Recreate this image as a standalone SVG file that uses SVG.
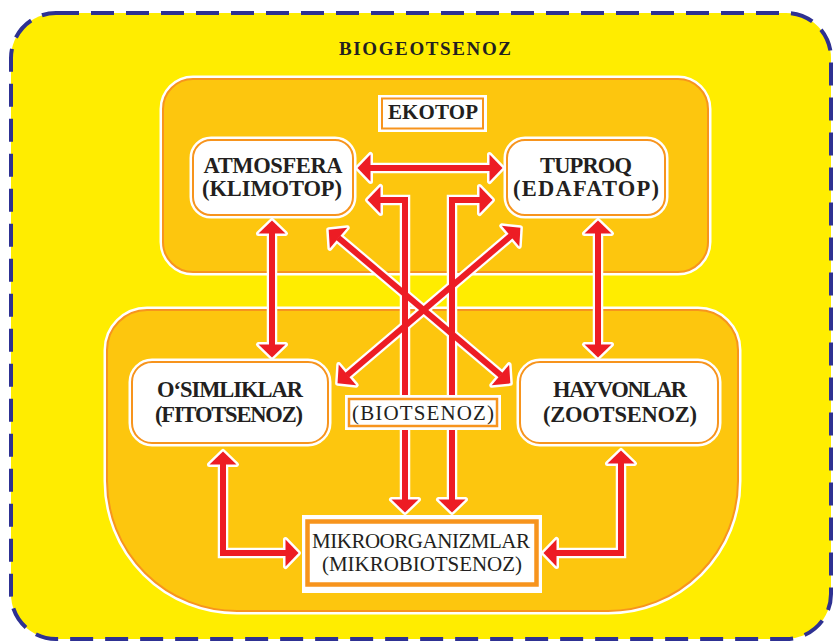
<svg xmlns="http://www.w3.org/2000/svg" width="835" height="643" viewBox="0 0 835 643">
<style>
.t{font-family:"Liberation Serif","Times New Roman",serif;font-weight:bold;fill:#231f20;text-anchor:middle}
.r{font-family:"Liberation Serif","Times New Roman",serif;font-weight:normal;fill:#231f20;text-anchor:middle}
.halo{fill:#fff;stroke:#fff;stroke-width:7}
.box{fill:#fff;stroke:#f7941d;stroke-width:2}
.panel{fill:#fdc60e;stroke:#f7941d;stroke-width:2}
.panelhalo{fill:none;stroke:#fff;stroke-width:7}
.w{fill:none;stroke:#fff;stroke-width:10.5;marker-start:url(#mw);marker-end:url(#mw)}
.rd{fill:none;stroke:#ed1c24;stroke-width:6;marker-start:url(#mr);marker-end:url(#mr)}
</style>
<defs>
<marker id="mr" markerUnits="userSpaceOnUse" orient="auto-start-reverse" refX="0" refY="0" markerWidth="40" markerHeight="40" viewBox="-20 -20 40 40" overflow="visible">
<path d="M-0.5,-13.5 L12.5,0 L-0.5,13.5 Z" fill="#ed1c24"/>
</marker>
<marker id="mw" markerUnits="userSpaceOnUse" orient="auto-start-reverse" refX="0" refY="0" markerWidth="40" markerHeight="40" viewBox="-20 -20 40 40" overflow="visible">
<path d="M-0.5,-13.5 L12.5,0 L-0.5,13.5 Z" fill="#fff" stroke="#fff" stroke-width="5" stroke-linejoin="round"/>
</marker>
</defs>

<g id="background">
<rect x="11" y="13" width="820" height="626" rx="45" ry="45" fill="#ffed00" stroke="#2e3192" stroke-width="4" stroke-dasharray="23 12"/>
</g>

<g id="biogeotsenoz-title">
<text class="t" x="425" y="55" font-size="19" textLength="172" lengthAdjust="spacing">BIOGEOTSENOZ</text>
</g>

<g id="ekotop-panel">
<rect class="panelhalo" x="163" y="79" width="545" height="193" rx="30"/>
<rect class="panel" x="163" y="79" width="545" height="193" rx="30"/>
</g>

<g id="biotsenoz-panel">
<path class="panelhalo" d="M147,310 H698 A40,40 0 0 1 738,350 V481 A130,130 0 0 1 608,611 H237 A130,130 0 0 1 107,481 V350 A40,40 0 0 1 147,310 Z"/>
<path class="panel" d="M147,310 H698 A40,40 0 0 1 738,350 V481 A130,130 0 0 1 608,611 H237 A130,130 0 0 1 107,481 V350 A40,40 0 0 1 147,310 Z"/>
</g>

<g id="connectors">
<g id="connectors-outline">
<path class="w" d="M338.2,237.7 L500.8,375.3"/>
<path class="w" d="M510.9,235.8 L347.1,375.2"/>
<path class="w" d="M380,200 H405 V500"/>
<path class="w" d="M480,200 H452 V500"/>
<path class="w" d="M370,168 H490"/>
<path class="w" d="M272,233 V345"/>
<path class="w" d="M598,233 V345"/>
<path class="w" d="M223,464 V553 H286"/>
<path class="w" d="M621,463 V553 H556"/>
</g>
<g id="connectors-red">
<path class="rd" d="M338.2,237.7 L500.8,375.3"/>
<path class="rd" d="M510.9,235.8 L347.1,375.2"/>
<path class="rd" d="M380,200 H405 V500"/>
<path class="rd" d="M480,200 H452 V500"/>
<path class="rd" d="M370,168 H490"/>
<path class="rd" d="M272,233 V345"/>
<path class="rd" d="M598,233 V345"/>
<path class="rd" d="M223,464 V553 H286"/>
<path class="rd" d="M621,463 V553 H556"/>
</g>
</g>

<g id="ekotop">
<rect x="378" y="95" width="109" height="37" fill="#fff"/>
<rect x="382" y="98.5" width="101" height="30" fill="#fff" stroke="#f7941d" stroke-width="2"/>
<text class="t" x="433" y="119" font-size="21" textLength="90" lengthAdjust="spacing">EKOTOP</text>
</g>

<g id="atmosfera">
<rect class="halo" x="193" y="140" width="160" height="75" rx="18"/>
<rect class="box" x="193" y="140" width="160" height="75" rx="18"/>
<text class="t" x="273" y="173" font-size="22.5" textLength="139" lengthAdjust="spacing">ATMOSFERA</text>
<text class="t" x="272" y="196" font-size="22.5" textLength="140" lengthAdjust="spacing">(KLIMOTOP)</text>
</g>

<g id="tuproq">
<rect class="halo" x="507" y="140" width="158" height="75" rx="18"/>
<rect class="box" x="507" y="140" width="158" height="75" rx="18"/>
<text class="t" x="586" y="173" font-size="22.5" textLength="92" lengthAdjust="spacing">TUPROQ</text>
<text class="t" x="586" y="196" font-size="22.5" textLength="146" lengthAdjust="spacing">(EDAFATOP)</text>
</g>

<g id="osimliklar">
<rect class="halo" x="132" y="362" width="196" height="81" rx="20"/>
<rect class="box" x="132" y="362" width="196" height="81" rx="20"/>
<text class="t" x="230" y="397" font-size="22.5" textLength="146" lengthAdjust="spacing">O‘SIMLIKLAR</text>
<text class="t" x="229" y="422" font-size="22.5" textLength="148" lengthAdjust="spacing">(FITOTSENOZ)</text>
</g>

<g id="hayvonlar">
<rect class="halo" x="520" y="362" width="198" height="81" rx="20"/>
<rect class="box" x="520" y="362" width="198" height="81" rx="20"/>
<text class="t" x="620" y="397" font-size="22.5" textLength="134" lengthAdjust="spacing">HAYVONLAR</text>
<text class="t" x="620" y="422" font-size="22.5" textLength="154" lengthAdjust="spacing">(ZOOTSENOZ)</text>
</g>

<g id="biotsenoz">
<rect x="345" y="395" width="156" height="35" fill="#fff"/>
<rect x="349" y="399" width="148" height="27" fill="#fff" stroke="#f7941d" stroke-width="2.5"/>
<text class="r" x="423" y="420" font-size="21" textLength="142" lengthAdjust="spacing">(BIOTSENOZ)</text>
</g>

<g id="mikroorganizmlar">
<rect x="302" y="515" width="240" height="78" fill="#fff"/>
<rect x="307.5" y="521.5" width="229" height="63" fill="#fff" stroke="#f7941d" stroke-width="4.5"/>
<text class="r" x="421" y="548" font-size="21" textLength="218" lengthAdjust="spacing">MIKROORGANIZMLAR</text>
<text class="r" x="422" y="571" font-size="21" textLength="200" lengthAdjust="spacing">(MIKROBIOTSENOZ)</text>
</g>
</svg>
